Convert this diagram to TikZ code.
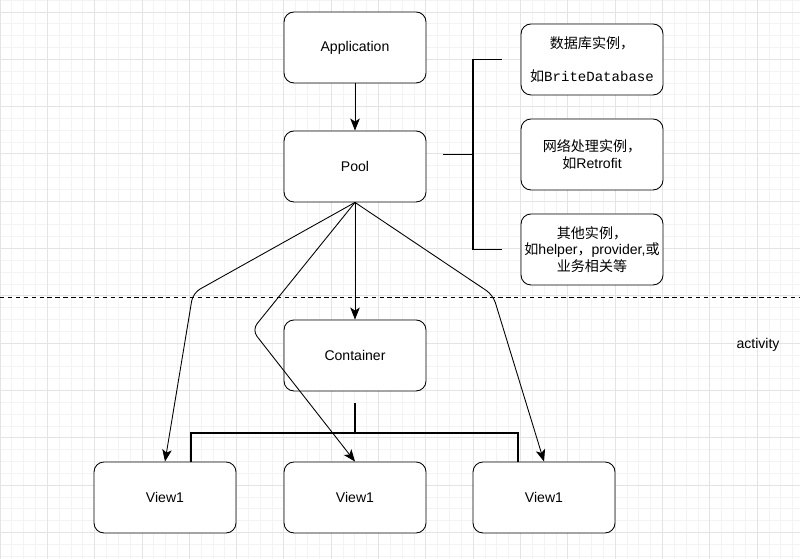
\documentclass[tikz,border=0pt]{standalone}
\usepackage{fontspec}
\setmainfont{Liberation Sans}
\setmonofont{Liberation Mono}
\newfontfamily\cjk{Noto Sans CJK SC}
\usepackage{tikz}
\usetikzlibrary{arrows,arrows.meta,positioning}
\definecolor{gridminor}{HTML}{F3F3F3}
\definecolor{gridmajor}{HTML}{E4E4E4}

\begin{document}
\begin{tikzpicture}[>={Stealth[length=2.4mm,width=1.9mm,inset=0.6mm]}, line width=0.5pt,
  box/.style={rectangle, rounded corners=0.2cm, draw, fill=white, inner sep=1pt,
    minimum width=2.84cm, minimum height=1.42cm, align=center,
    font=\fontsize{8}{9.3}\selectfont},
  link/.style={->, rounded corners=0.16cm},
  bracket/.style={-, line width=1.1pt}]
        \useasboundingbox (0,0) rectangle (16,11.18);
        % background grid
        \begin{scope}[yshift=0.53cm]
        \draw [gridminor, step=0.2366] (0,-0.53) grid (16,10.65);
        \draw [gridmajor, step=0.9464] (0,-0.53) grid (16,10.65);
        \end{scope}
        \draw [dash pattern=on 2.5pt off 2pt] (0,5.24) -- (16,5.24);
        \node [box] (app) at (7.10,10.23) {Application};
        \node [box] (pool) at (7.10,7.85) {Pool};
        \node [box] (cont) at (7.10,4.07) {Container};
        \node [box] (view1) at (3.30,1.23) {View1};
        \node [box] (view2) at (7.10,1.23) {View1};
        \node [box] (view3) at (10.88,1.23) {View1};
        \node [box] (db) at (11.84,9.99) {{\cjk 数据库实例，}\\[9.3pt]{\cjk 如}\texttt{BriteDatabase}};
        \node [box] (net) at (11.84,8.09) {{\cjk 网络处理实例，}\\{\cjk 如}Retrofit};
        \node [box] (misc) at (11.84,6.19) {{\cjk 其他实例，}\\{\cjk 如}helper{\cjk ，}provider,{\cjk 或}\\{\cjk 业务相关等}};
        \node [font=\fontsize{8}{9.3}\selectfont] (act) at (15.16,4.28) {activity};
        % arrows
        \coordinate (bend1) at (3.86,5.32);
        \coordinate (bend2) at (5.04,4.58);
        \coordinate (bend3) at (9.86,5.28);
        \draw [link] (app) -- (pool);
        \draw [link] (pool.south) -- (cont.north);
        \draw [link] (pool.south) -- (bend1) -- (view1.north);
        \draw [link] (pool.south) -- (bend2) -- (view2.north);
        \draw [link] (pool.south) -- (bend3) -- (view3.north);
        % brackets
        \coordinate (brace) at (9.46,8.09);
        \draw [bracket] ([xshift=-0.38cm]db.west) -| (brace) |- ([xshift=-0.38cm]misc.west);
        \draw [bracket] (brace) -- ++(-0.6,0);
        \coordinate (split) at ([yshift=-0.24cm]cont.south);
        \draw [bracket] (split) -- ++(0,-0.6) coordinate (join);
        \draw [bracket] ([xshift=0.52cm]view1.north) |- (join) -| ([xshift=-0.52cm]view3.north);
    \end{tikzpicture}
\end{document}
